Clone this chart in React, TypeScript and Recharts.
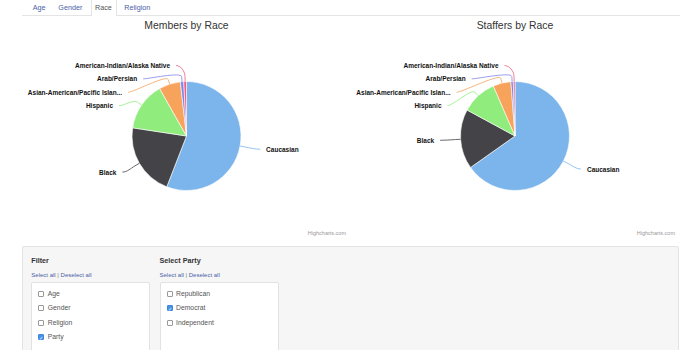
import { PieChart, Pie, Cell } from 'recharts'

const races = [
  'Caucasian',
  'Black',
  'Hispanic',
  'Asian-American/Pacific Islan...',
  'Arab/Persian',
  'American-Indian/Alaska Native',
]
const memberShares = [55.9, 21.5, 14.4, 6.4, 1.0, 0.8]
const stafferShares = [65.2, 17.7, 10.6, 5.3, 0.7, 0.5]
const colors = ['#7cb5ec', '#434348', '#90ed7d', '#f7a35c', '#8085e9', '#f15c80']

const tabs = ['Age', 'Gender', 'Race', 'Religion']
const filters = ['Age', 'Gender', 'Religion', 'Party']
const filtersChecked = [false, false, false, true]
const parties = ['Republican', 'Democrat', 'Independent']
const partiesChecked = [false, true, false]

const RAD = Math.PI / 180
const R = 54.5
const LABEL_RX = 26.5
const LABEL_RY = 17.5
const LABEL_GAP = 13.4
const font = '"Liberation Sans", Arial, Helvetica, sans-serif'

// highcharts-ish placement: natural spot on an ellipse, then stack each side downwards
function layoutLabels(values: number[], r: number) {
  const total = values.reduce((s, v) => s + v, 0)
  let acc = 0
  const items = values.map((v, i) => {
    const theta = ((acc + v / 2) / total) * 360
    acc += v
    return { i, left: theta > 180, dy: -(r + LABEL_RY) * Math.cos(theta * RAD) }
  })
  for (const left of [true, false]) {
    const side = items.filter((it) => it.left === left).sort((a, b) => a.dy - b.dy)
    let prev = -Infinity
    side.forEach((it) => {
      it.dy = Math.max(it.dy, -(r + 16), prev + LABEL_GAP)
      prev = it.dy
    })
  }
  return items
}

const makeLabel = (layout: { left: boolean; dy: number }[]) => (props: any) => {
  const { cx, cy, midAngle, outerRadius } = props
  const i = props.index ?? races.indexOf(props.name)
  const item = layout[i]
  const s = item.left ? -1 : 1
  const b = outerRadius + LABEL_RY
  const k = Math.min(1, Math.abs(item.dy) / b)
  const y = cy + item.dy
  const x = cx + s * (outerRadius + LABEL_RX) * Math.sqrt(1 - k * k)
  const ang = -midAngle * RAD
  const tx = cx + outerRadius * Math.cos(ang)
  const ty = cy + outerRadius * Math.sin(ang)
  const bx = cx + (outerRadius + 5) * Math.cos(ang)
  const by = cy + (outerRadius + 5) * Math.sin(ang)
  const lx = x - s * 6
  const d = `M${lx},${y} C${lx - s * 5},${y} ${2 * bx - tx},${2 * by - ty} ${bx},${by} L${tx},${ty}`
  return (
    <g key={`lbl-${i}`}>
      <path d={d} stroke={colors[i]} strokeWidth={0.8} fill="none" />
      <text
        x={x}
        y={y}
        textAnchor={item.left ? 'end' : 'start'}
        dominantBaseline="central"
        fontSize={6.5}
        fontWeight="bold"
        fill="#111"
        fontFamily={font}
      >
        {races[i]}
      </text>
    </g>
  )
}

function RacePie({ title, values, left, width }: { title: string; values: number[]; left: number; width: number }) {
  const data = races.map((name, i) => ({ name, value: values[i] }))
  const layout = layoutLabels(values, R)
  return (
    <div style={{ position: 'absolute', left, top: 0, width, height: 240 }}>
      <div
        style={{
          position: 'absolute',
          top: 19,
          width: '100%',
          textAlign: 'center',
          fontSize: 10.4,
          color: '#333',
          lineHeight: '14px',
        }}
      >
        {title}
      </div>
      <PieChart width={width} height={240} margin={{ top: 0, right: 0, bottom: 0, left: 0 }}>
        <Pie
          data={data}
          dataKey="value"
          nameKey="name"
          cx={width / 2}
          cy={136}
          outerRadius={R}
          startAngle={90}
          endAngle={-270}
          stroke="#fff"
          strokeWidth={0.6}
          label={makeLabel(layout)}
          labelLine={false}
          isAnimationActive={false}
        >
          {data.map((d, i) => (
            <Cell key={d.name} fill={colors[i]} />
          ))}
        </Pie>
      </PieChart>
      <div
        style={{
          position: 'absolute',
          right: 5,
          top: 230,
          fontSize: 5.5,
          color: '#999',
          lineHeight: '7px',
        }}
      >
        Highcharts.com
      </div>
    </div>
  )
}

function Check({ on }: { on: boolean }) {
  return (
    <span
      style={{
        display: 'inline-block',
        width: 6,
        height: 6,
        borderRadius: 1,
        border: on ? '0.5px solid #3b86de' : '0.6px solid #999',
        background: on ? '#4a92e6' : '#fff',
        color: '#fff',
        fontSize: 5,
        lineHeight: '6px',
        textAlign: 'center',
        verticalAlign: 'middle',
        boxSizing: 'border-box',
      }}
    >
      {on ? '✓' : ''}
    </span>
  )
}

function CheckList({ title, items, checked, left }: { title: string; items: string[]; checked: boolean[]; left: number }) {
  return (
    <>
      <div style={{ position: 'absolute', left, top: 256, fontSize: 7.2, fontWeight: 'bold', color: '#333', lineHeight: '9px' }}>
        {title}
      </div>
      <div style={{ position: 'absolute', left, top: 271, fontSize: 6, color: '#4a5ea8', lineHeight: '8px' }}>
        Select all <span style={{ color: '#777' }}>|</span> Deselect all
      </div>
      <div
        style={{
          position: 'absolute',
          left,
          top: 281.5,
          width: 119,
          height: 90,
          background: '#fff',
          border: '1px solid #e2e2e2',
          borderRadius: 2,
          boxSizing: 'border-box',
        }}
      >
        {items.map((it, i) => (
          <div
            key={it}
            style={{
              position: 'absolute',
              left: 6,
              top: 7 + i * 14.4,
              fontSize: 6.8,
              color: '#555',
              lineHeight: '8px',
              whiteSpace: 'nowrap',
            }}
          >
            <Check on={checked[i]} />
            <span style={{ marginLeft: 3.5, verticalAlign: 'middle' }}>{it}</span>
          </div>
        ))}
      </div>
    </>
  )
}

const tabLeft = [32.7, 58.3, 95, 124.3]

export default function App() {
  return (
    <div
      style={{
        position: 'absolute',
        left: 0,
        top: 0,
        width: 700,
        height: 350,
        overflow: 'hidden',
        background: '#fff',
        fontFamily: font,
      }}
    >
      <div style={{ position: 'absolute', left: 22, top: 15, width: 658, height: 0, borderTop: '1px solid #e4e4e4' }} />
      <div
        style={{
          position: 'absolute',
          left: 90.7,
          top: -1,
          width: 26,
          height: 17,
          background: '#fff',
          border: '1px solid #e4e4e4',
          borderBottom: 'none',
          boxSizing: 'border-box',
        }}
      />
      {tabs.map((t, i) => (
        <div
          key={t}
          style={{
            position: 'absolute',
            left: tabLeft[i],
            top: 3,
            fontSize: 7.2,
            lineHeight: '9px',
            color: t === 'Race' ? '#555' : '#4a5ea8',
          }}
        >
          {t}
        </div>
      ))}

      <RacePie title="Members by Race" values={memberShares} left={22} width={329} />
      <RacePie title="Staffers by Race" values={stafferShares} left={350} width={330} />

      <div
        style={{
          position: 'absolute',
          left: 22,
          top: 246,
          width: 657,
          height: 130,
          background: '#f6f6f6',
          border: '1px solid #e3e3e3',
          borderRadius: 2,
          boxSizing: 'border-box',
        }}
      />
      <CheckList title="Filter" items={filters} checked={filtersChecked} left={31.3} />
      <CheckList title="Select Party" items={parties} checked={partiesChecked} left={159.5} />
    </div>
  )
}
